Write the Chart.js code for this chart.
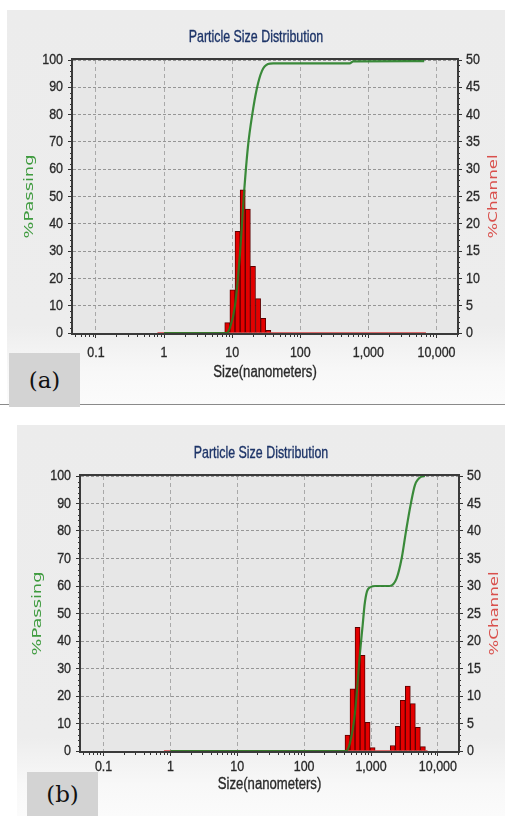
<!DOCTYPE html>
<html>
<head>
<meta charset="utf-8">
<script src="https://cdn.jsdelivr.net/npm/chart.js@4.4.0/dist/chart.umd.min.js"></script>
<style>
  html, body { margin: 0; padding: 0; background: #fff; }
  body { width: 505px; height: 816px; position: relative; overflow: hidden; }
  .panel { position: absolute; background: linear-gradient(#ececec 0%, #ededed 80%, #f8f8f8 92%, #fbfbfb 100%); }
  #panelA { left: 7px; top: 10px; width: 498px; height: 394px; }
  #panelB { left: 17px; top: 425px; width: 488px; height: 391px; }
  .rule { position: absolute; left: 0; top: 404px; width: 505px; height: 1px; background: #8a8a8a; }
  .tag { position: absolute; background: #d3d3d3; color: #111; font: 23px 'DejaVu Serif', 'Liberation Serif', serif;
         display: flex; align-items: center; justify-content: center; }
  #tagA { left: 9px; top: 353px; width: 71px; height: 54px; }
  #tagB { left: 27px; top: 772px; width: 71px; height: 44px; }
</style>
</head>
<body>
<div class="panel" id="panelA"><canvas id="chartA" width="498" height="394"></canvas></div>
<div class="rule"></div>
<div class="tag" id="tagA">(a)</div>
<div class="panel" id="panelB"><canvas id="chartB" width="488" height="391"></canvas></div>
<div class="tag" id="tagB">(b)</div>
<script>
// x axis labels (nm)
const tickSizes = [0.1, 1, 10, 100, 1000, 10000];

// (a) channel bins and %channel
const sizesA = [8.48, 10.09, 12.0, 14.27, 16.97, 20.18, 24.0, 28.54, 33.94];
const channelA = [1.9, 7.9, 18.6, 26.2, 22.7, 12.2, 6.3, 2.7, 0.5];
// (a) cumulative %passing
const passSizesA = [1, 8.2, 9.3, 11, 13, 14.9, 17, 19.7, 23, 27.4, 33.5, 40, 530, 600, 6600];
const passingA = [0, 0, 2, 10, 29, 51, 68, 80, 89.5, 96, 98.5, 98.8, 98.8, 99.5, 99.6];

// (b) channel bins and %channel
const sizesB = [445, 529, 629, 748, 889, 1057, 1257, 1494, 1777, 2113, 2512, 2987, 3552, 4223, 5021, 5970];
const channelB = [2.9, 11.3, 22.5, 17.4, 5.2, 0.6, 0, 0, 0, 1.0, 4.5, 9.2, 11.8, 8.6, 4.3, 0.8];
// (b) cumulative %passing
const passSizesB = [1, 420, 485, 577, 686, 752, 800, 870, 1000, 1150, 1900, 2415, 2870, 3326, 3910, 4540, 5710, 6400];
const passingB = [0, 0, 3, 14, 36, 46, 53, 58, 59.7, 60, 60, 62.8, 70, 79.7, 89.5, 96.7, 99.8, 100];

// %channel zero line range
const baseSizes = [0.8, 7000];
const baseVals = [0, 0];

const sans = "'Liberation Sans', Arial, sans-serif";

// narrow text: the original software uses a condensed face
function txt(ctx, s, x, y, size, sx, align, color) {
  ctx.save();
  ctx.font = size + 'px ' + sans;
  ctx.fillStyle = color;
  ctx.strokeStyle = color;
  ctx.lineWidth = 0.35;
  ctx.textAlign = align;
  ctx.textBaseline = 'middle';
  ctx.translate(x, y);
  ctx.scale(sx, 1);
  ctx.fillText(s, 0, 0);
  ctx.strokeText(s, 0, 0);
  ctx.restore();
}

const decor = {
  id: 'decor',
  beforeDraw(chart) {
    const { ctx, chartArea: a } = chart;
    ctx.save();
    ctx.fillStyle = '#e7e7e7';
    ctx.fillRect(a.left, a.top, a.right - a.left, a.bottom - a.top);
    ctx.restore();
  },
  afterDatasetsDraw(chart) {
    const { ctx, chartArea: a, scales } = chart;
    ctx.save();
    ctx.strokeStyle = '#333';
    ctx.lineWidth = 1;
    // minor x ticks
    for (let k = -2; k <= 4; k++) {
      for (let m = 2; m <= 9; m++) {
        const v = m * Math.pow(10, k);
        if (v < scales.x.min || v > scales.x.max) continue;
        const px = Math.round(scales.x.getPixelForValue(v)) + 0.5;
        ctx.beginPath(); ctx.moveTo(px, a.bottom + 1); ctx.lineTo(px, a.bottom + 4); ctx.stroke();
      }
    }
    // minor y ticks
    for (let v = 2; v < 100; v += 2) {
      if (v % 10 === 0) continue;
      const py = Math.round(scales.y.getPixelForValue(v)) + 0.5;
      ctx.beginPath(); ctx.moveTo(a.left - 1, py); ctx.lineTo(a.left - 3, py); ctx.stroke();
      ctx.beginPath(); ctx.moveTo(a.right + 1, py); ctx.lineTo(a.right + 3, py); ctx.stroke();
    }
    // frame
    ctx.strokeStyle = '#3a3a3a';
    ctx.lineWidth = 2;
    ctx.strokeRect(a.left - 1, a.top - 1, a.right - a.left + 2, a.bottom - a.top + 2);
    ctx.restore();
  },
  afterDraw(chart, args, opts) {
    const { ctx, chartArea: a, width, scales } = chart;
    const midY = (a.top + a.bottom) / 2;
    const ink = '#2a2a2a';
    // tick labels
    scales.x.ticks.forEach(t => txt(ctx, t.label, scales.x.getPixelForValue(t.value), a.bottom + opts.tickGap, 15, 0.83, 'center', ink));
    scales.y.ticks.forEach(t => txt(ctx, t.label, a.left - 10, scales.y.getPixelForValue(t.value), 15, 0.83, 'right', ink));
    scales.y2.ticks.forEach(t => txt(ctx, t.label, a.right + 9, scales.y2.getPixelForValue(t.value), 15, 0.83, 'left', ink));
    // titles
    txt(ctx, 'Size(nanometers)', (a.left + a.right) / 2, a.bottom + opts.xTitleGap, 16, 0.82, 'center', ink);
    txt(ctx, 'Particle Size Distribution', width / 2, opts.titleY, 17, 0.73, 'center', '#1d3468');
    // side titles, read bottom to top
    const side = (text, x, color) => {
      ctx.save();
      ctx.font = "12px 'DejaVu Sans', sans-serif";
      ctx.fillStyle = color;
      ctx.textAlign = 'center';
      ctx.textBaseline = 'middle';
      const w = ctx.measureText(text).width;
      ctx.translate(x, midY);
      ctx.rotate(-Math.PI / 2);
      ctx.scale(84 / w, 1);
      ctx.fillText(text, 0, 0);
      ctx.restore();
    };
    side('%Passing', opts.leftX, '#3f9b3f');
    side('%Channel', opts.rightX, '#d9504c');
  }
};

function makeChart(id, sizes, channel, passSizes, passing, lay) {
  return new Chart(document.getElementById(id), {
    type: 'bar',
    data: {
      datasets: [
        {
          type: 'line',
          label: '%Passing',
          data: passSizes.map((s, i) => ({ x: s, y: passing[i] })),
          yAxisID: 'y',
          borderColor: 'rgba(34,125,34,0.88)',
          borderWidth: 2.2,
          pointRadius: 0,
          cubicInterpolationMode: 'monotone',
          fill: false,
          order: 0
        },
        {
          type: 'bar',
          label: '%Channel',
          data: sizes.map((s, i) => ({ x: s, y: channel[i] })),
          yAxisID: 'y2',
          backgroundColor: '#e30000',
          borderColor: '#5e0000',
          borderWidth: 1,
          barThickness: 'flex',
          barPercentage: 1,
          categoryPercentage: 1,
          order: 1
        },
        {
          type: 'line',
          label: 'zero',
          data: baseSizes.map((s, i) => ({ x: s, y: baseVals[i] })),
          yAxisID: 'y2',
          borderColor: '#d86a6a',
          borderWidth: 2,
          pointRadius: 0,
          order: 2
        }
      ]
    },
    options: {
      responsive: false,
      animation: false,
      layout: { padding: { top: lay.top, left: 0, right: 0, bottom: 0 } },
      plugins: {
        legend: { display: false },
        tooltip: { enabled: false },
        decor: { titleY: lay.titleY, leftX: lay.leftX, rightX: lay.rightX, tickGap: lay.tickGap, xTitleGap: lay.xTitleGap }
      },
      scales: {
        x: {
          type: 'logarithmic',
          min: 0.046,
          max: 20000,
          offset: false,
          afterBuildTicks: s => { s.ticks = tickSizes.map(v => ({ value: v })); },
          afterFit: s => { s.height = lay.xH; },
          grid: { offset: false, color: '#a9a9a9', lineWidth: 1, tickLength: 5, tickColor: '#333' },
          border: { display: false, dash: [4, 3] },
          ticks: { display: false, autoSkip: false, callback: v => Number(v).toLocaleString('en-US') }
        },
        y: {
          position: 'left',
          min: 0, max: 100,
          afterFit: s => { s.width = lay.yW; },
          grid: { color: '#969696', lineWidth: 1, tickLength: 5, tickColor: '#333' },
          border: { display: false, dash: [3, 2] },
          ticks: { display: false, stepSize: 10 }
        },
        y2: {
          position: 'right',
          min: 0, max: 50,
          afterFit: s => { s.width = lay.y2W; },
          grid: { drawOnChartArea: false, tickLength: 5, tickColor: '#333' },
          border: { display: false },
          ticks: { display: false, stepSize: 5 }
        }
      }
    },
    plugins: [decor]
  });
}

makeChart('chartA', sizesA, channelA, passSizesA, passingA,
  { top: 50, xH: 71, yW: 66, y2W: 48, tickGap: 20, xTitleGap: 40, titleY: 27, leftX: 23, rightX: 487 });
makeChart('chartB', sizesB, channelB, passSizesB, passingB,
  { top: 51, xH: 65, yW: 64, y2W: 47, tickGap: 16, xTitleGap: 34, titleY: 28, leftX: 21, rightX: 478 });
</script>
</body>
</html>
